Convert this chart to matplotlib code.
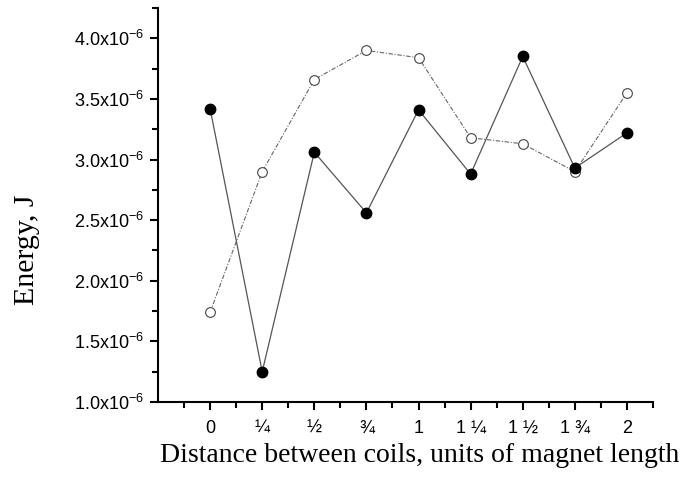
import matplotlib
matplotlib.use("Agg")
import matplotlib.pyplot as plt
from matplotlib.ticker import FixedLocator, FuncFormatter
import numpy as np

# distance between coils (in magnet lengths) and energy, J
dist_labels = ["0", "¼", "½", "¾", "1", "1 ¼", "1 ½", "1 ¾", "2"]
energy_filled = [3.42e-6, 1.25e-6, 3.06e-6, 2.56e-6, 3.41e-6, 2.88e-6, 3.85e-6, 2.93e-6, 3.22e-6]
energy_open = [1.74e-6, 2.90e-6, 3.66e-6, 3.90e-6, 3.84e-6, 3.18e-6, 3.13e-6, 2.90e-6, 3.55e-6]

plt.rcParams['mathtext.fontset'] = 'custom'
plt.rcParams['mathtext.rm'] = 'Liberation Sans'
plt.rcParams['mathtext.it'] = 'Liberation Sans'

fig = plt.figure(figsize=(6.89, 4.88), dpi=100)
ax = fig.add_axes([158/689, 1 - 402/488, (653 - 158)/689, (402 - 8)/488])

x = np.arange(len(dist_labels))
ax.plot(x, energy_open, color="#666666", lw=0.8, dashes=(4, 1.5, 1, 1.5),
        marker="o", ms=7, mfc="white", mec="#444444", mew=0.8, zorder=2)
ax.plot(x, energy_filled, color="#555555", lw=0.9, linestyle="-",
        marker="o", ms=7.5, mfc="black", mec="black", zorder=3)

ax.set_xlim(-1, 8.5)
ax.set_ylim(1.0e-6, 4.25e-6)

ax.xaxis.set_major_locator(FixedLocator(x))
ax.xaxis.set_minor_locator(FixedLocator(np.arange(-0.5, 8.6, 1.0)))
ax.set_xticklabels(dist_labels, fontfamily="Liberation Sans", fontsize=13)

yt = np.arange(1.0, 4.01, 0.5) * 1e-6
ax.yaxis.set_major_locator(FixedLocator(yt))
ax.yaxis.set_minor_locator(FixedLocator(np.arange(1.25, 4.26, 0.5) * 1e-6))
ax.yaxis.set_major_formatter(FuncFormatter(lambda v, p: "%.1fx10$^{-6}$" % (v / 1e-6)))
for lab in ax.get_yticklabels():
    lab.set_fontfamily("Liberation Sans")
    lab.set_fontsize(13)

for s in ["top", "right"]:
    ax.spines[s].set_visible(False)
for s in ["left", "bottom"]:
    ax.spines[s].set_linewidth(1.5)
ax.tick_params(which="major", length=6, width=1.5, direction="out")
ax.tick_params(axis="x", which="major", pad=7)
ax.tick_params(axis="y", which="major", pad=4)
ax.tick_params(which="minor", length=4, width=1.5, direction="out")

fig.text(420/689, 1 - 462/488, "Distance between coils, units of magnet length",
         ha="center", va="baseline", fontfamily="Liberation Serif", fontsize=20)
fig.text(27/689, 1 - 250/488, "Energy, J", rotation=90, ha="center", va="center",
         fontfamily="Liberation Serif", fontsize=21.5)

fig.savefig("out.png", dpi=100)
